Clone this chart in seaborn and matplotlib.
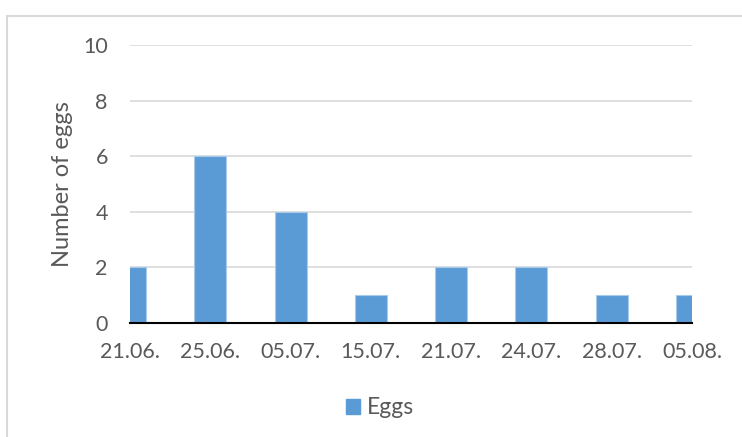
import numpy as np
import pandas as pd
import matplotlib.pyplot as plt
import matplotlib.patches as mpatches
import seaborn as sns

# datos del gráfico
dates = ["21.06.", "25.06.", "05.07.", "15.07.", "21.07.", "24.07.", "28.07.", "05.08."]
eggs = [2, 6, 4, 1, 2, 2, 1, 1]
series_name = "Eggs"

df = pd.DataFrame({"date": dates, "eggs": eggs, "series": series_name})

sns.set_style("white")
plt.rcParams['font.family'] = ['Lato', 'DejaVu Sans']

text_color = "#595959"
bar_color = "#5B9BD5"
grid_color = "#D9D9D9"

fig = plt.figure(figsize=(7.42, 4.37), dpi=100)
ax = fig.add_axes([130 / 742, 1 - 323 / 437, 562 / 742, 278 / 437])

sns.barplot(data=df, x="date", y="eggs", hue="series", palette=[bar_color],
            width=0.4, ax=ax, saturation=1, legend=True,
            edgecolor="#A9CBEA", linewidth=0.8)

ax.set_xlim(0, len(dates) - 1)
ax.set_ylim(0, 10)
ax.set_yticks(np.arange(0, 11, 2))
ax.yaxis.grid(True, color=grid_color, linewidth=1.2)
ax.set_axisbelow(True)

for s in ["top", "right", "left"]:
    ax.spines[s].set_visible(False)
ax.spines["bottom"].set_color("black")
ax.spines["bottom"].set_linewidth(1.5)

ax.tick_params(axis="x", direction="out", length=5, width=1.5, color="black",
               pad=9, labelsize=15.5, labelcolor=text_color)
ax.tick_params(axis="y", length=0, pad=16, labelsize=15.5, labelcolor=text_color)

ax.set_xlabel("")
ax.set_ylabel("Number of eggs", fontsize=17, color=text_color)
ax.yaxis.set_label_coords(-0.101, 0.5)

# leyenda abajo
ax.get_legend().remove()
handle = mpatches.Patch(color=bar_color, label=series_name)
fig.legend(handles=[handle], loc="center", bbox_to_anchor=(0.512, 1 - 408 / 437),
           frameon=False, fontsize=16.5, labelcolor=text_color,
           handlelength=0.6, handleheight=0.6, handletextpad=0.3)

# marco del gráfico
frame = mpatches.Rectangle((7 / 742, -0.1), 1.2, 1 - 16 / 437 + 0.1,
                           transform=fig.transFigure, fill=False,
                           edgecolor=grid_color, linewidth=1.5, clip_on=False)
fig.patches.append(frame)

fig.savefig("out.png", dpi=100)
